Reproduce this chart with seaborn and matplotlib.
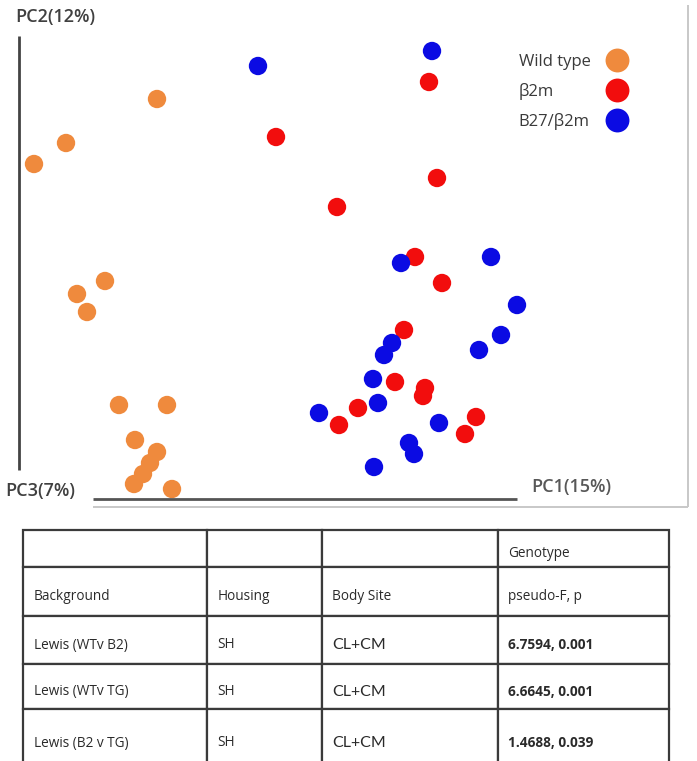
import numpy as np
import pandas as pd
import matplotlib
matplotlib.use('Agg')
import matplotlib.pyplot as plt
from matplotlib.lines import Line2D
from matplotlib.transforms import Affine2D
import seaborn as sns

# PCoA scores (arbitrary units)
wt_pc1 = [-0.143, -0.234, -0.266, -0.195, -0.223, -0.213, -0.181, -0.133,
          -0.165, -0.143, -0.150, -0.157, -0.166, -0.128]
wt_pc2 = [0.201, 0.157, 0.136, 0.019, 0.006, -0.012, -0.105, -0.105,
          -0.140, -0.152, -0.163, -0.174, -0.184, -0.189]
b2m_pc1 = [-0.024, 0.037, 0.129, 0.137, 0.115, 0.142, 0.104, 0.095,
           0.125, 0.123, 0.058, 0.039, 0.176, 0.165]
b2m_pc2 = [0.163, 0.093, 0.218, 0.122, 0.043, 0.017, -0.030, -0.082,
           -0.088, -0.096, -0.108, -0.125, -0.117, -0.134]
tg_pc1 = [-0.042, 0.132, 0.101, 0.191, 0.217, 0.201, 0.179, 0.092,
          0.084, 0.073, 0.078, 0.019, 0.139, 0.109, 0.114, 0.074]
tg_pc2 = [0.234, 0.249, 0.037, 0.043, -0.005, -0.035, -0.050, -0.043,
          -0.055, -0.079, -0.103, -0.113, -0.123, -0.143, -0.154, -0.167]

groups = ['Wild type', 'β2m', 'B27/β2m']
colors = ['#EF8A3D', '#F20D0D', '#0B0BE3']

table_rows = [
    ['', '', '', 'Genotype'],
    ['Background', 'Housing', 'Body Site', 'pseudo-F, p'],
    ['Lewis (WTv B2)', 'SH', 'CL+CM', '6.7594, 0.001'],
    ['Lewis (WTv TG)', 'SH', 'CL+CM', '6.6645, 0.001'],
    ['Lewis (B2 v TG)', 'SH', 'CL+CM', '1.4688, 0.039'],
]

df = pd.concat([
    pd.DataFrame({'PC1': wt_pc1, 'PC2': wt_pc2, 'Genotype': groups[0]}),
    pd.DataFrame({'PC1': b2m_pc1, 'PC2': b2m_pc2, 'Genotype': groups[1]}),
    pd.DataFrame({'PC1': tg_pc1, 'PC2': tg_pc2, 'Genotype': groups[2]}),
], ignore_index=True)

sns.set_theme(style='white')
plt.rcParams['font.family'] = ['Open Sans', 'DejaVu Sans']

W, H = 697, 761
fig = plt.figure(figsize=(W / 100, H / 100), dpi=100)


def fpos(x, y):
    # pixel position -> figure fraction
    return x / W, 1 - y / H


##### scatter part
ax = fig.add_axes([0, (H - 515) / H, 1, 515 / H])
sns.scatterplot(data=df, x='PC1', y='PC2', hue='Genotype', hue_order=groups,
                palette=colors, s=175, linewidth=0, ax=ax)
ax.set_xlim(-0.3, 0.397)
ax.set_ylim(-0.215, 0.3)
ax.set_axis_off()

handles, labels = ax.get_legend_handles_labels()
leg = ax.legend(handles, labels, markerfirst=False, frameon=False,
                loc='upper right', bbox_to_anchor=fpos(634, 54),
                bbox_transform=fig.transFigure, borderpad=0, borderaxespad=0,
                markerscale=1.3, labelspacing=0.78, handletextpad=0.6,
                prop={'size': 12})
for t in leg.get_texts():
    t.set_color('#3a3a3a')

# legend labels left aligned: pad the shorter ones
fig.canvas.draw()
rend = fig.canvas.get_renderer()
widths = [t.get_window_extent(rend).width for t in leg.get_texts()]
for col in leg._legend_handle_box.get_children():
    for item, w in zip(col.get_children(), widths):
        item.sep += (max(widths) - w) * 72 / fig.dpi

# axis decorations
def line(x0, y0, x1, y1, c, lw):
    a, b = fpos(x0, y0)
    cc, d = fpos(x1, y1)
    fig.add_artist(Line2D([a, cc], [b, d], transform=fig.transFigure,
                          color=c, lw=lw, solid_capstyle='butt'))

line(19, 36, 19, 470, '#444444', 2.0)
line(93, 499, 517, 499, '#555555', 2.0)
line(93, 507, 688, 507, '#c8c8c8', 1.4)
line(688, 5, 688, 507, '#c8c8c8', 1.4)

lab = dict(fontsize=13, fontweight='semibold', va='center')
fig.text(*fpos(15, 17), 'PC2(12%)', color='#404040', **lab)
fig.text(*fpos(5, 491), 'PC3(7%)', color='#404040', **lab)
fig.text(*fpos(531, 487), 'PC1(15%)', color='#585858', **lab)

##### table part
tax = fig.add_axes([0, 0, 1, 246 / H])
tax.set_axis_off()
col_w = [184, 115, 176, 171]
row_h = [37, 49, 48, 45, 58]
tab = tax.table(cellText=table_rows, cellLoc='left',
                bbox=[23 / W, -6 / 246, 646 / W, 237 / 246])
tab.auto_set_font_size(False)
tab.set_fontsize(9.8)
for (r, c), cell in tab.get_celld().items():
    cell.set_width(col_w[c])
    cell.set_height(row_h[r])
    cell.set_linewidth(1.6)
    cell.set_edgecolor('#3a3a3a')
    cell.PAD = 10.5 / col_w[c]
    txt = cell.get_text()
    txt.set_color('#2a2a2a')
    # text sits a little below the middle of each cell
    txt.set_transform(Affine2D().translate(0, -5))
    if c == 2 and r >= 2:
        txt.set_fontfamily(['Lato', 'DejaVu Sans'])
        txt.set_fontsize(11.5)
    if c == 3 and r >= 2:
        txt.set_fontweight('bold')

fig.savefig('out.png', dpi=100)
